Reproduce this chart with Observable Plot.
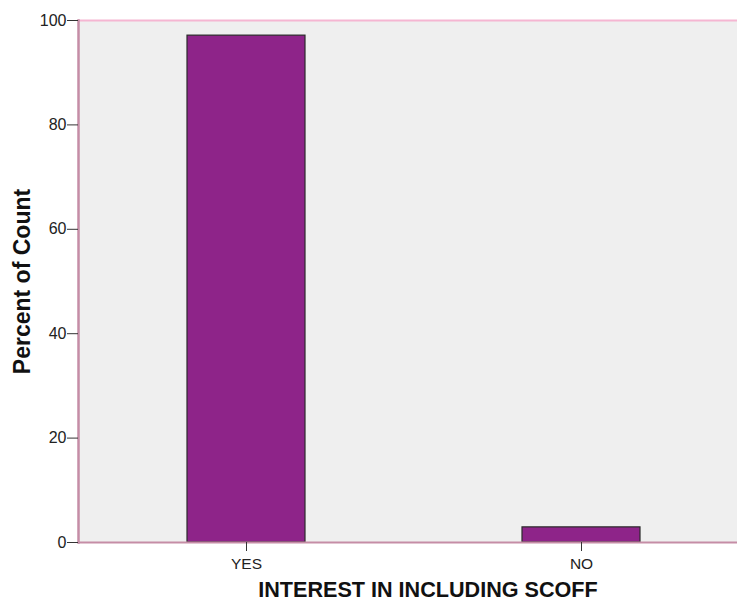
<!DOCTYPE html>
<html>
<head>
<meta charset="utf-8">
<script src="https://cdn.jsdelivr.net/npm/d3@7"></script>
<script src="https://cdn.jsdelivr.net/npm/@observablehq/plot@0.6"></script>
<style>
  html, body { margin: 0; padding: 0; background: #fff; }
  svg { display: block; }
</style>
</head>
<body>
<div id="chart"></div>
<script>
const categories = ["YES", "NO"];
const percents = [97.1, 2.9];
const yTicks = [0, 20, 40, 60, 80, 100];
const xTitle = "INTEREST IN INCLUDING SCOFF";
const yTitle = "Percent of Count";

const data = categories.map((c, i) => ({category: c, percent: percents[i]}));

const W = 737, H = 601;
const mL = 78, mT = 20, mB = 59;

const chart = Plot.plot({
  width: W,
  height: H,
  marginLeft: mL,
  marginRight: 0,
  marginTop: mT,
  marginBottom: mB,
  style: {fontFamily: "'Liberation Sans', Arial, sans-serif", fontSize: "15px", color: "#222", background: "#fff", overflow: "visible"},
  x: {domain: categories, range: [mL, mL + 670], paddingInner: 0.648, paddingOuter: 0.324, align: 0.5},
  y: {domain: [0, 100]},
  marks: [
    Plot.frame({fill: "#efefef", stroke: "none"}),
    Plot.barY(data, {x: "category", y: "percent", fill: "#8e2489", stroke: "#2a2a2a", strokeWidth: 1.2}),
    Plot.ruleY([100], {stroke: "#f5b6d2", strokeWidth: 2}),
    Plot.ruleY([0], {stroke: "#c58da6", strokeWidth: 2}),
    Plot.frame({anchor: "left", stroke: "#c58da6", strokeWidth: 2.5}),
    Plot.axisY({ticks: yTicks, tickSize: 11, tickPadding: 1, label: null, stroke: "#333", fontSize: 16}),
    Plot.axisX({tickSize: 9, tickPadding: 6, label: null, stroke: "#333", fontSize: 15.5}),
    Plot.text([xTitle], {frameAnchor: "bottom", dx: 20, dy: 48, lineAnchor: "middle", fontSize: 21.6, fontWeight: "bold", fill: "#111"}),
    Plot.text([yTitle], {frameAnchor: "left", dx: -56, rotate: -90, textAnchor: "middle", lineAnchor: "middle", fontSize: 23, fontWeight: "bold", fill: "#111"})
  ]
});
document.getElementById("chart").appendChild(chart);
</script>
</body>
</html>
